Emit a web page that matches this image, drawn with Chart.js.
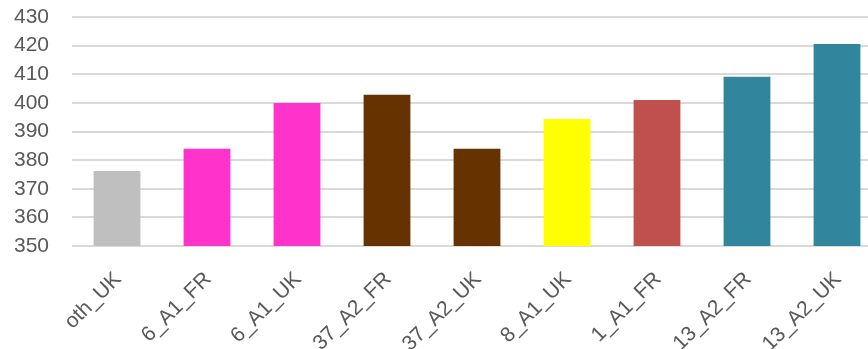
<!DOCTYPE html>
<html>
<head>
<meta charset="utf-8">
<script src="https://cdn.jsdelivr.net/npm/chart.js@4"></script>
<style>
  html, body { margin: 0; padding: 0; background: #ffffff; overflow: hidden; }
  #wrap { position: relative; width: 882px; height: 349px; }
</style>
</head>
<body>
<div id="wrap"><canvas id="c"></canvas></div>
<script>
// Categories and their values
const categories = ["oth_UK", "6_A1_FR", "6_A1_UK", "37_A2_FR", "37_A2_UK", "8_A1_UK", "1_A1_FR", "13_A2_FR", "13_A2_UK"];
const values = [376.2, 384, 400, 402.8, 384, 394.4, 401, 409.1, 420.6];
const barColors = ["#bfbfbf", "#ff33cc", "#ff33cc", "#663300", "#663300", "#ffff00", "#c0504d", "#31859c", "#31859c"];
const yMin = 350;
const yMax = 430;
const yStep = 10;

const fontFamily = "'Liberation Sans', Arial, sans-serif";

new Chart(document.getElementById("c"), {
  type: "bar",
  data: {
    labels: categories,
    datasets: [{
      data: values,
      backgroundColor: barColors,
      borderWidth: 0,
      barPercentage: 0.52,
      categoryPercentage: 1.0
    }]
  },
  options: {
    responsive: true,
    maintainAspectRatio: false,
    animation: false,
    layout: { padding: { top: 17, left: 0, right: 0, bottom: 0 } },
    plugins: { legend: { display: false }, tooltip: { enabled: false } },
    scales: {
      x: {
        grid: { display: false, drawTicks: false },
        border: { display: false },
        ticks: {
          color: "#595959",
          font: { family: fontFamily, size: 21 },
          minRotation: 45,
          maxRotation: 45,
          padding: 21,
          labelOffset: 1,
          autoSkip: false
        },
        afterFit: (scale) => {
          scale.height = 103;
          scale.paddingLeft = 0;
          scale.paddingRight = 0;
        }
      },
      y: {
        min: yMin,
        max: yMax,
        grid: { color: "#d9d9d9", lineWidth: 2, drawTicks: false },
        border: { display: false },
        ticks: {
          stepSize: yStep,
          autoSkip: false,
          color: "#595959",
          font: { family: fontFamily, size: 21 },
          padding: 23
        },
        afterFit: (scale) => {
          scale.width = 72;
          scale.paddingTop = 0;
          scale.paddingBottom = 0;
        }
      }
    }
  }
});
</script>
</body>
</html>
